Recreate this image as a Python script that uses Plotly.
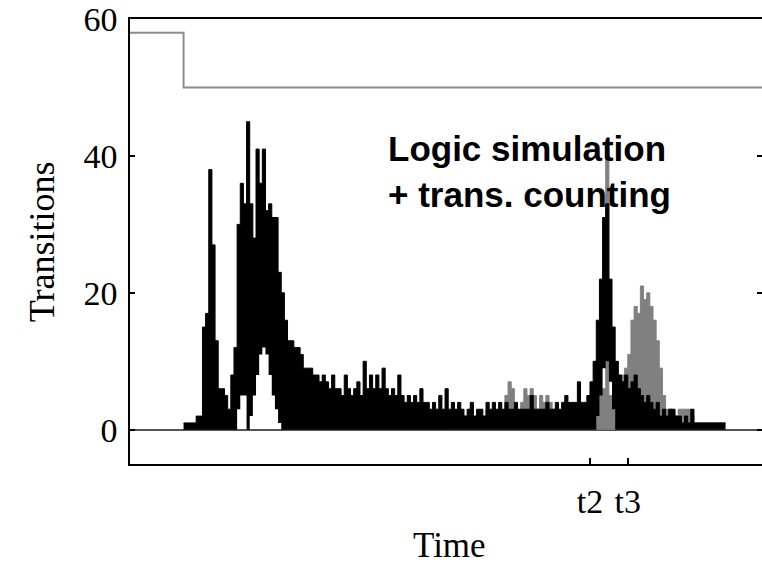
import plotly.graph_objects as go

# ---------------- data ----------------
t_start = 17  # first time bin of the transition traces

# logic simulation + transition counting (black), upper / lower envelope per time bin
black_hi = [
    1, 1, 1, 1, 2, 2, 15, 17, 38, 27, 13, 6, 6,          # t17-t29
    5, 3, 8, 12, 30, 36, 33, 45, 33, 28,                  # t30-t39
    41, 36, 41, 32, 33, 31, 31, 23, 20, 16,               # t40-t49
    13, 13, 12, 12, 11, 9, 9, 9, 8, 8,                    # t50-t59
    7, 8, 7, 6, 8, 6, 6, 5, 8, 6,                         # t60-t69
    5, 6, 7, 5, 10, 6, 8, 6, 8, 6,                        # t70-t79
    9, 6, 5, 6, 5, 8, 5, 4, 5, 4,                         # t80-t89
    5, 4, 6, 4, 4, 3, 4, 3, 5, 3,                         # t90-t99
    6, 3, 4, 3, 4, 3, 2, 3, 4, 2,                         # t100-t109
    3, 3, 2, 4, 3, 4, 3, 4, 3, 4,                         # t110-t119
    3, 3, 4, 3, 3, 3, 3, 5, 3, 3,                         # t120-t129
    3, 3, 4, 3, 3, 4, 3, 4, 5, 4,                         # t130-t139
    4, 4, 7, 4, 4, 5, 7, 10, 16, 22,                      # t140-t149
    31, 33, 22, 15, 10, 8, 7, 8, 6, 7,                    # t150-t159
    8, 6, 5, 4, 5, 4, 3, 4, 2, 3,                         # t160-t169
    2, 3, 3, 2, 2, 1, 2, 1, 3, 1,                         # t170-t179
    1, 1, 1, 1, 1, 1, 1, 1, 1, 1,                         # t180-t189
]
black_lo = [
    0, 0, 0, 0, 0, 0, 0, 0, 0, 0, 0, 0, 0,                # t17-t29
    0, 0, 0, 0, 3, 5, 5, 0, 2, 5,                         # t30-t39
    8, 11, 12, 11, 8, 5, 3, 1, 0, 0,                      # t40-t49
    0, 0, 0, 0, 0, 0, 0, 0, 0, 0,                         # t50-t59
    0, 0, 0, 0, 0, 0, 0, 0, 0, 0,                         # t60-t69
    0, 0, 0, 0, 0, 0, 0, 0, 0, 0,                         # t70-t79
    0, 0, 0, 0, 0, 0, 0, 0, 0, 0,                         # t80-t89
    0, 0, 0, 0, 0, 0, 0, 0, 0, 0,                         # t90-t99
    0, 0, 0, 0, 0, 0, 0, 0, 0, 0,                         # t100-t109
    0, 0, 0, 0, 0, 0, 0, 0, 0, 0,                         # t110-t119
    0, 0, 0, 0, 0, 0, 0, 0, 0, 0,                         # t120-t129
    0, 0, 0, 0, 0, 0, 0, 0, 0, 0,                         # t130-t139
    0, 0, 0, 0, 0, 0, 0, 0, 2, 5,                         # t140-t149
    9, 10, 7, 3, 0, 0, 0, 0, 0, 0,                        # t150-t159
    0, 0, 0, 0, 0, 0, 0, 0, 0, 0,                         # t160-t169
    0, 0, 0, 0, 0, 0, 0, 0, 0, 0,                         # t170-t179
    0, 0, 0, 0, 0, 0, 0, 0, 0, 0,                         # t180-t189
]

# second trace (grey), drawn behind the black one
gray_start = 100
gray_vals = [
    3, 2, 3, 2, 3, 2, 2, 2, 3, 2,                         # t100-t109
    2, 2, 2, 3, 2, 3, 2, 3, 2, 5,                         # t110-t119
    7, 6, 3, 2, 4, 6, 5, 6, 5, 3,                         # t120-t129
    5, 4, 5, 4, 3, 3, 2, 3, 3, 2,                         # t130-t139
    2, 3, 2, 2, 2, 1, 1, 1, 4, 6,                         # t140-t149
    6, 41, 5, 3, 1, 5, 8, 9, 11, 16,                      # t150-t159
    18, 17, 21, 19, 20, 18, 16, 13, 9, 5,                 # t160-t169
    3, 3, 2, 2, 3, 3, 3, 3, 2, 1,                         # t170-t179
    1, 1, 1, 1, 1, 1, 1, 1, 1, 1,                         # t180-t189
]

# grey step line at the top
step_t = [0, 17, 201]
step_v = [58, 50, 50]

x_ticks = [146, 158]
x_ticktext = ["t2", "t3"]
y_ticks = [0, 20, 40, 60]

# ---------------- figure ----------------
t_black = [t_start + i for i in range(len(black_hi))]
t_gray = [gray_start + i for i in range(len(gray_vals))]

fig = go.Figure()

fig.add_trace(go.Scatter(
    x=step_t, y=step_v, mode="lines", line=dict(color="#8c8c8c", width=2, shape="hv"),
    hoverinfo="skip", showlegend=False))

fig.add_trace(go.Scatter(
    x=t_gray, y=gray_vals, mode="lines", line=dict(color="#808080", width=1, shape="hv"),
    fill="tozeroy", fillcolor="#808080", hoverinfo="skip", showlegend=False))

fig.add_trace(go.Scatter(
    x=t_black, y=black_lo, mode="lines", line=dict(color="rgba(0,0,0,0)", width=0, shape="hv"),
    hoverinfo="skip", showlegend=False))
fig.add_trace(go.Scatter(
    x=t_black, y=black_hi, mode="lines", line=dict(color="black", width=1, shape="hv"),
    fill="tonexty", fillcolor="black", hoverinfo="skip", showlegend=False))

serif = "Liberation Serif, Times New Roman, serif"

# plot frame runs to the right edge of the window (its right side is cut off, as in the reference)
fig.update_layout(
    width=764, height=565, autosize=False,
    margin=dict(l=130, r=0, t=19, b=101),
    paper_bgcolor="white", plot_bgcolor="white",
    font=dict(family=serif, size=34, color="black"),
    xaxis=dict(
        range=[0, 200.6], tickmode="array", tickvals=x_ticks, ticktext=x_ticktext,
        ticks="inside", ticklen=6, tickwidth=1.5, tickcolor="black", ticklabelstandoff=6,
        showline=True, linecolor="black", linewidth=1.5, mirror=True,
        showgrid=False, zeroline=False,
        tickfont=dict(family=serif, size=34, color="black"),
    ),
    yaxis=dict(
        range=[-5, 60], tickmode="array", tickvals=y_ticks,
        ticks="inside", ticklen=5, tickwidth=1.5, tickcolor="black", ticklabelstandoff=4,
        showline=True, linecolor="black", linewidth=1.5, mirror="allticks",
        showgrid=False, zeroline=True, zerolinecolor="#555555", zerolinewidth=1.5,
        tickfont=dict(family=serif, size=34, color="black"),
    ),
    annotations=[
        dict(text="<b>Logic simulation<br>+ trans. counting</b>", xref="paper", yref="paper",
             x=0.4054, y=0.757, xanchor="left", yanchor="top", align="left", showarrow=False,
             font=dict(family="Liberation Sans, Arial, sans-serif", size=35, color="black")),
        dict(text="Transitions", xref="paper", yref="paper", x=-0.1388, y=0.499,
             xanchor="center", yanchor="middle", textangle=-90, showarrow=False,
             font=dict(family=serif, size=36, color="black")),
        dict(text="Time", xref="paper", yref="paper", x=0.505, y=-0.184,
             xanchor="center", yanchor="middle", showarrow=False,
             font=dict(family=serif, size=35, color="black")),
    ],
)

fig.write_html(
    "out.html",
    config={"displayModeBar": False, "responsive": False},
    post_script="document.body.style.margin='0';document.body.style.padding='0';"
                "document.body.style.overflow='hidden';",
)
